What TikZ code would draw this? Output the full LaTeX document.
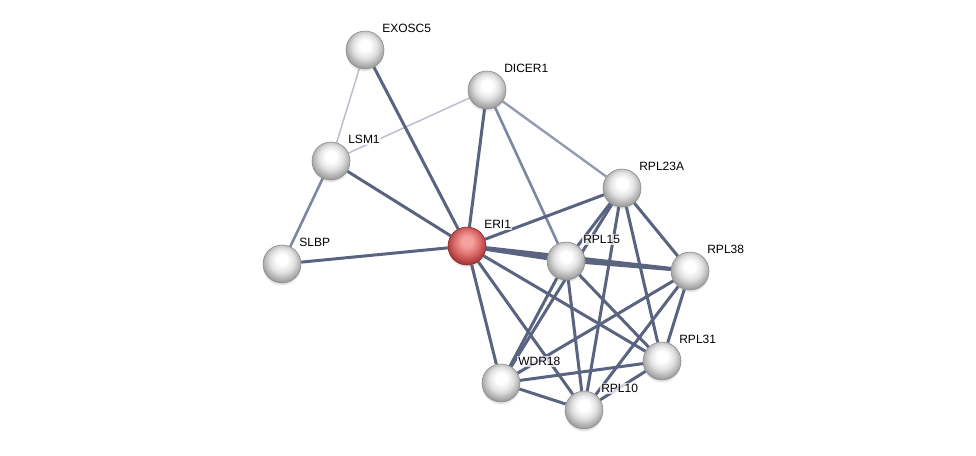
\documentclass[tikz,border=0pt]{standalone}
\usepackage{fontspec}
\setmainfont{Liberation Sans}
\usetikzlibrary{backgrounds,shadows}

\definecolor{pearlmid}{RGB}{226,226,226}
\definecolor{pearledge}{RGB}{156,156,156}
\definecolor{rubylight}{RGB}{246,160,160}
\definecolor{rubymid}{RGB}{222,112,112}
\definecolor{rubyedge}{RGB}{168,52,52}
\definecolor{linkdark}{RGB}{90,99,128}
\definecolor{linkmid}{RGB}{126,134,160}
\definecolor{linklight}{RGB}{148,154,176}
\definecolor{linkpale}{RGB}{186,190,205}

\pgfdeclareradialshading{pearl}{\pgfpoint{0bp}{7bp}}{%
  color(0bp)=(white); color(7bp)=(white); color(16bp)=(pearlmid);
  color(27bp)=(pearledge); color(50bp)=(pearledge)}
\pgfdeclareradialshading{ruby}{\pgfpoint{0bp}{7bp}}{%
  color(0bp)=(rubylight); color(7bp)=(rubylight); color(16bp)=(rubymid);
  color(27bp)=(rubyedge); color(50bp)=(rubyedge)}

\begin{document}
\begin{tikzpicture}[
  x=1pt, y=-1pt,
  protein/.style={circle, minimum size=38pt, inner sep=0pt, shading=pearl,
    draw=black!45, line width=0.6pt,
    drop shadow={opacity=0.18, shadow xshift=0pt, shadow yshift=-2.5pt}},
  query/.style={protein, shading=ruby, draw=rubyedge!80!black},
  lbl/.style={font=\fontsize{12}{14}\selectfont, inner sep=1pt,
    fill=white, fill opacity=0.75, text opacity=1},
  every label/.style={lbl},
  label distance=3.5pt,
  link/.style={draw=linkdark, line width=3pt},
  strong/.style={draw=linkdark, line width=4pt},
  medium/.style={draw=linkmid, line width=2.6pt},
  light/.style={draw=linklight, line width=2.4pt},
  pale/.style={draw=linkpale, line width=1.5pt}
]
\useasboundingbox (0,0) rectangle (976,455);

% proteins
\node[protein, label={45:EXOSC5}] (exosc5) at (365,50) {};
\node[protein, label={45:DICER1}] (dicer1) at (487,90) {};
\node[protein, label={45:LSM1}] (lsm1) at (331,161) {};
\node[protein, label={45:SLBP}] (slbp) at (282,264) {};
\node[query, label={45:ERI1}] (eri1) at (467,246) {};
\node[protein, label={45:RPL23A}] (rpl23a) at (622,188) {};
\node[protein, label={45:RPL15}] (rpl15) at (566,261) {};
\node[protein, label={45:RPL38}] (rpl38) at (690,271) {};
\node[protein, label={45:RPL31}] (rpl31) at (662,361) {};
\node[protein, label={45:WDR18}] (wdr18) at (501,383) {};
\node[protein, label={45:RPL10}] (rpl10) at (584,410) {};

% interactions
\begin{scope}[on background layer]
\draw[pale] (exosc5) -- (lsm1);
\draw[pale] (dicer1) -- (lsm1);
\draw[medium] (lsm1) -- (slbp);
\draw[light] (dicer1) -- (rpl23a);
\draw[medium] (dicer1) -- (rpl15);
\draw[link] (exosc5) -- (eri1);
\draw[link] (dicer1) -- (eri1);
\draw[link] (lsm1) -- (eri1);
\draw[link] (slbp) -- (eri1);
\draw[link] (eri1) -- (rpl23a);
\draw[strong] (eri1) -- (rpl15);
\draw[strong] (eri1) -- (rpl38);
\draw[link] (eri1) -- (wdr18);
\draw[link] (eri1) -- (rpl10);
\draw[link] (eri1) -- (rpl31);
\draw[link] (rpl23a) -- (rpl15);
\draw[link] (rpl23a) -- (rpl38);
\draw[link] (rpl23a) -- (rpl31);
\draw[link] (rpl23a) -- (rpl10);
\draw[link] (rpl23a) -- (wdr18);
\draw[link] (rpl15) -- (rpl38);
\draw[link] (rpl15) -- (wdr18);
\draw[link] (rpl15) -- (rpl10);
\draw[link] (rpl15) -- (rpl31);
\draw[link] (rpl38) -- (rpl31);
\draw[link] (rpl38) -- (rpl10);
\draw[link] (rpl38) -- (wdr18);
\draw[link] (wdr18) -- (rpl31);
\draw[link] (wdr18) -- (rpl10);
\draw[link] (rpl10) -- (rpl31);
\end{scope}
\end{tikzpicture}
\end{document}
